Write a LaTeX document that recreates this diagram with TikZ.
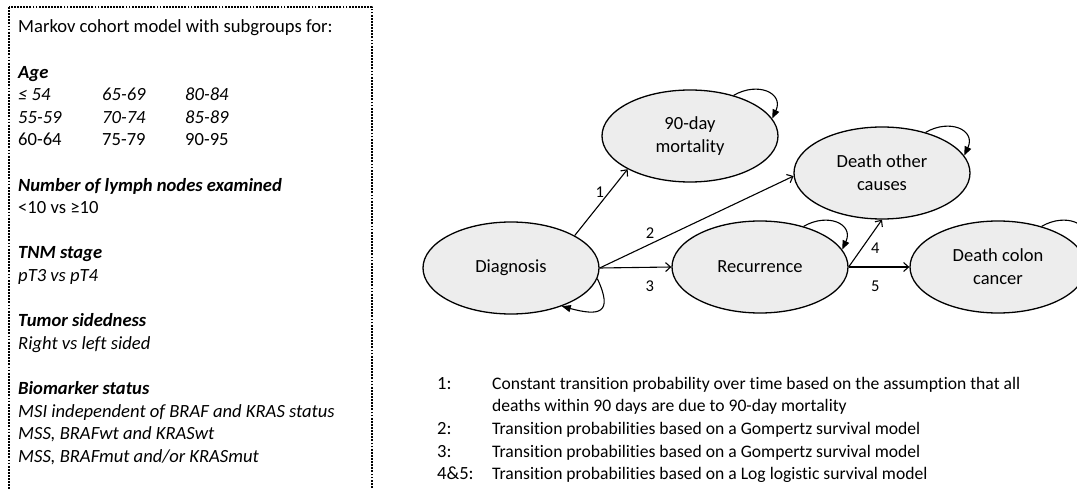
\documentclass[tikz,border=0pt]{standalone}
\usepackage{fontspec}
\setmainfont{Carlito}[Ligatures=NoCommon]
\usetikzlibrary{arrows.meta,shapes.geometric}

\tikzset{
  state/.style={ellipse, draw, fill=gray!14, line width=1.3pt, minimum width=176pt, minimum height=92pt,
    inner sep=0pt, align=center, font=\fontsize{18.5}{23}\selectfont},
  trans/.style={-{Straight Barb[length=5pt,width=9pt]}, line width=1.1pt},
  selfloop/.style={-{Triangle[length=9pt,width=7pt]}, line width=1.1pt},
  num/.style={font=\fontsize{16.5}{18}\selectfont, inner sep=2pt},
  line/.style={anchor=base west, inner sep=0pt},
}

\begin{document}
\begin{tikzpicture}[x=1pt, y=1pt, line join=round, font=\fontsize{18.6}{22.6}\selectfont]
\clip (0,0) rectangle (1077,-489);
% subgroups box
\draw[line width=1.8pt, dash pattern=on 1.8pt off 1.3pt] (9,-7) rectangle (372,-520);
\foreach \k/\txt in {0/{Markov cohort model with subgroups for:},
    2/{\textbf{\textit{Age}}},
    7/{\textbf{\textit{Number of lymph nodes examined}}}, 8/{<10 vs ≥10},
    10/{\textbf{\textit{TNM stage}}}, 11/{\textit{pT3 vs pT4}},
    13/{\textbf{\textit{Tumor sidedness}}}, 14/{\textit{Right vs left sided}},
    16/{\textbf{\textit{Biomarker status}}}, 17/{\textit{MSI independent of BRAF and KRAS status}},
    18/{\textit{MSS, BRAFwt and KRASwt}}, 19/{\textit{MSS, BRAFmut and/or KRASmut}}}{
  \node[line] (sub\k) at (18,{-33-22.6*\k}) {\txt};}
% age groups
\foreach \x/\k/\txt in {18/3/\textit{≤ 54}, 102/3/\textit{65-69}, 185/3/\textit{80-84},
    18/4/\textit{55-59}, 102/4/\textit{70-74}, 185/4/\textit{85-89},
    18/5/60-64, 102/5/75-79, 185/5/90-95}{
  \node[line] (age\x-\k) at (\x,{-33-22.6*\k}) {\txt};}

% states
\node[state] (diag) at (511,-268) {Diagnosis};
\node[state] (mort) at (690,-136) {90-day\\mortality};
\node[state] (other) at (882,-173) {Death other\\causes};
\node[state] (rec) at (760,-267) {Recurrence};
\node[state] (crc) at (998,-267) {Death colon\\cancer};

% transitions
\draw[trans] (diag.27) -- node[num, pos=.66, left=3pt] {1} (mort.208);
\draw[trans] (diag.east) -- node[num, pos=.26, above=3pt] {2} (other.182);
\draw[trans] (diag.east) -- node[num, pos=.7, below=11pt] {3} (rec.west);
\draw[trans] (rec.east) -- node[num, pos=.39, right=7pt] {4} (other.south);
\draw[trans] (rec.east) -- node[num, pos=.44, below=11pt] {5} (crc.west);

% staying in a state
\draw[selfloop] (diag.-7) to[out=-65, in=-15, looseness=2.2] (diag.-37);
\foreach \s in {mort, other, rec, crc}
  \draw[selfloop] (\s.43) to[out=30, in=65, looseness=1.6] (\s.12);

% legend
\foreach \k/\n in {0/1:, 2/2:, 3/3:, 4/4\&5:}
  \node[line] (key\k) at (437,{-389-22.7*\k}) {\n};
\foreach \k/\txt in {0/{Constant transition probability over time based on the assumption that all},
    1/{deaths within 90 days are due to 90-day mortality},
    2/{Transition probabilities based on a Gompertz survival model},
    3/{Transition probabilities based on a Gompertz survival model},
    4/{Transition probabilities based on a Log logistic survival model}}
  \node[line, font=\fontsize{17.6}{22.6}\selectfont] (note\k) at (492,{-389-22.7*\k}) {\txt};
\end{tikzpicture}
\end{document}
